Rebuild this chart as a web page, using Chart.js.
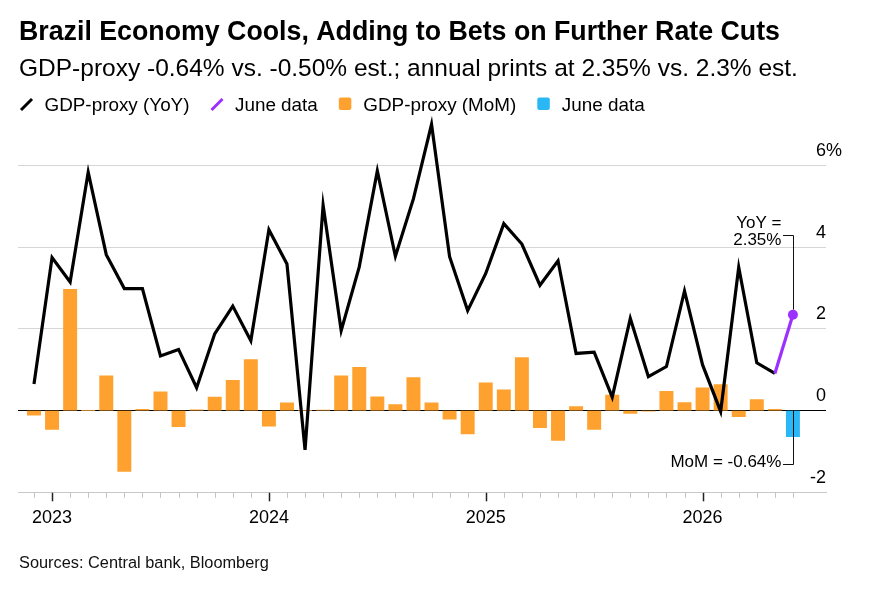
<!DOCTYPE html>
<html><head><meta charset="utf-8">
<script src="https://cdn.jsdelivr.net/npm/chart.js@4.4.1/dist/chart.umd.min.js"></script>
<style>html,body{margin:0;padding:0;background:#fff;}#wrap{width:874px;height:596px;position:relative;}</style>
</head><body><div id="wrap"><canvas id="c" width="874" height="596"></canvas></div>
<script>
// ---- DATA ----
const months = ['2022-12',
 '2023-01','2023-02','2023-03','2023-04','2023-05','2023-06','2023-07','2023-08','2023-09','2023-10','2023-11','2023-12',
 '2024-01','2024-02','2024-03','2024-04','2024-05','2024-06','2024-07','2024-08','2024-09','2024-10','2024-11','2024-12',
 '2025-01','2025-02','2025-03','2025-04','2025-05','2025-06','2025-07','2025-08','2025-09','2025-10','2025-11','2025-12',
 '2026-01','2026-02','2026-03','2026-04','2026-05','2026-06'];
const yoy = [0.65,
 3.75,3.15,5.84,3.82,2.99,2.99,1.34,1.50,0.56,1.88,2.56,1.71,
 4.43,3.59,-0.96,5.03,1.96,3.52,5.87,3.78,5.19,7.01,3.77,2.45,
 3.36,4.58,4.08,3.07,3.67,1.40,1.43,0.33,2.26,0.83,1.08,2.93,
 1.12,-0.02,3.51,1.17,0.91,2.35];
const mom = [-0.11,
 -0.46,2.97,0.00,0.85,-1.49,0.03,0.46,-0.39,0.02,0.33,0.74,1.25,
 -0.38,0.19,0.00,0.01,0.85,1.06,0.34,0.15,0.81,0.19,-0.21,-0.57,
 0.68,0.51,1.30,-0.42,-0.73,0.10,-0.46,0.38,-0.07,-0.01,0.47,0.20,
 0.56,0.64,-0.15,0.27,0.03,-0.64];
const yTickValues = [-2, 0, 2, 4, 6];
const yearLabels = {'2023-01':'2023','2024-01':'2024','2025-01':'2025','2026-01':'2026'};
const seriesNames = ['GDP-proxy (YoY)','June data','GDP-proxy (MoM)','June data'];
const titleText = 'Brazil Economy Cools, Adding to Bets on Further Rate Cuts';
const subtitleText = 'GDP-proxy -0.64% vs. -0.50% est.; annual prints at 2.35% vs. 2.3% est.';
const sourceText = 'Sources: Central bank, Bloomberg';
const yoyNote = ['YoY =', '2.35%'];
const momNote = 'MoM = -0.64%';

// ---- STYLE ----
const FONT = '"Liberation Sans", Arial, Helvetica, sans-serif';
const C_BLACK = '#000000', C_PURPLE = '#9b30ff', C_ORANGE = '#ffa12e', C_BLUE = '#2ab7f6', C_GRID = '#d6d6d6';
const last = months.length - 1;

const blackLine = months.slice(0, last).map((m, i) => ({x: i, y: yoy[i]}));
const purpleLine = [{x: last - 1, y: yoy[last - 1]}, {x: last, y: yoy[last]}];
const orangeBars = months.slice(0, last).map((m, i) => ({x: i, y: mom[i]}));
const blueBars = [{x: last, y: mom[last]}];

function fitSize(ctx, text, weight, target) {
  ctx.font = weight + ' 100px ' + FONT;
  return 100 * target / ctx.measureText(text).width;
}

const decor = {
  id: 'decor',
  afterDatasetsDraw(chart) {
    const ctx = chart.ctx, xs = chart.scales.x, ys = chart.scales.y;
    ctx.save();
    // monthly minor ticks and yearly major ticks
    months.forEach((m, i) => {
      const px = Math.round(xs.getPixelForValue(i)) + 0.5;
      const major = !!yearLabels[m];
      ctx.strokeStyle = major ? '#222' : '#c2c2c2';
      ctx.lineWidth = major ? 1.5 : 1;
      ctx.beginPath(); ctx.moveTo(px, ys.bottom + 0.5); ctx.lineTo(px, ys.bottom + (major ? 9 : 5.5)); ctx.stroke();
    });
    // annotations
    const xp = xs.getPixelForValue(last);
    const yPt = ys.getPixelForValue(yoy[last]);
    const yZero = ys.getPixelForValue(0);
    ctx.strokeStyle = '#111'; ctx.lineWidth = 1;
    const vx = Math.round(xp) + 0.5;
    ctx.beginPath();
    ctx.moveTo(vx - 10.5, 235.5); ctx.lineTo(vx, 235.5); ctx.lineTo(vx, yPt - 5);
    ctx.stroke();
    ctx.beginPath();
    ctx.moveTo(vx, yZero); ctx.lineTo(vx, 464.5); ctx.lineTo(vx - 10.5, 464.5);
    ctx.stroke();
    ctx.fillStyle = '#000';
    ctx.font = '17px ' + FONT;
    ctx.textAlign = 'right'; ctx.textBaseline = 'middle';
    ctx.fillText(yoyNote[0], xp - 11.5, 223);
    ctx.fillText(yoyNote[1], xp - 11.5, 240.5);
    ctx.fillText(momNote, xp - 11.5, 462);
    ctx.restore();
  },
  afterDraw(chart) {
    const ctx = chart.ctx, ys = chart.scales.y, area = chart.chartArea;
    ctx.save();
    ctx.fillStyle = '#000';
    ctx.textBaseline = 'alphabetic'; ctx.textAlign = 'left';
    // title & subtitle
    let s = fitSize(ctx, titleText, 'bold', 761);
    ctx.font = 'bold ' + s + 'px ' + FONT; ctx.fillText(titleText, 19, 39.5);
    s = fitSize(ctx, subtitleText, 'normal', 779);
    ctx.font = s + 'px ' + FONT; ctx.fillText(subtitleText, 19, 75.5);
    // legend
    const ls = fitSize(ctx, seriesNames[0], 'normal', 145);
    ctx.font = ls + 'px ' + FONT;
    const colors = [C_BLACK, C_PURPLE, C_ORANGE, C_BLUE];
    let x = 20;
    seriesNames.forEach((name, i) => {
      if (i < 2) {
        ctx.strokeStyle = colors[i]; ctx.lineWidth = 3; ctx.lineCap = 'butt';
        ctx.beginPath(); ctx.moveTo(x + 1, 110); ctx.lineTo(x + 12, 99); ctx.stroke();
        x += 24.5;
      } else {
        ctx.fillStyle = colors[i];
        ctx.beginPath(); ctx.roundRect(x, 97.5, 12.5, 12.5, 2); ctx.fill();
        x += 24.5;
      }
      ctx.fillStyle = '#000';
      ctx.fillText(name, x, 110.5);
      x += ctx.measureText(name).width + 21;
    });
    // y tick labels (numbers right-aligned, % hanging)
    ctx.font = '18px ' + FONT; ctx.textBaseline = 'middle';
    ys.ticks.forEach((t, i) => {
      const py = ys.getPixelForValue(t.value) - 14.5;
      ctx.textAlign = 'right';
      ctx.fillText(String(t.value), area.right, py);
      if (i === ys.ticks.length - 1) { ctx.textAlign = 'left'; ctx.fillText('%', area.right, py); }
    });
    // source
    ctx.textBaseline = 'alphabetic'; ctx.textAlign = 'left';
    s = fitSize(ctx, sourceText, 'normal', 250);
    ctx.font = s + 'px ' + FONT; ctx.fillStyle = '#111';
    ctx.fillText(sourceText, 19, 567.5);
    ctx.restore();
  }
};

new Chart(document.getElementById('c'), {
  data: {
    datasets: [
      {type: 'line', label: seriesNames[0], data: blackLine, borderColor: C_BLACK, borderWidth: 3.2,
       pointRadius: 0, borderJoinStyle: 'miter', tension: 0, clip: false, order: 1},
      {type: 'line', label: seriesNames[1], data: purpleLine, borderColor: C_PURPLE, backgroundColor: C_PURPLE, borderWidth: 3.2,
       pointRadius: ctx => ctx.dataIndex === 1 ? 5 : 0, pointBorderWidth: 0, pointBackgroundColor: C_PURPLE,
       tension: 0, clip: false, order: 0},
      {type: 'bar', label: seriesNames[2], data: orangeBars, backgroundColor: C_ORANGE, barThickness: 13.3,
       grouped: false, borderWidth: 0, order: 3},
      {type: 'bar', label: seriesNames[3], data: blueBars, backgroundColor: C_BLUE, barThickness: 13.3,
       grouped: false, borderWidth: 0, order: 2}
    ]
  },
  options: {
    responsive: false, animation: false, devicePixelRatio: 1,
    layout: {padding: {left: 18, top: 120.7, right: 0, bottom: 0}},
    plugins: {legend: {display: false}, tooltip: {enabled: false}, title: {display: false}},
    scales: {
      x: {
        type: 'linear', min: -0.885, max: 43.83, offset: false,
        afterBuildTicks: sc => { sc.ticks = months.map((m, i) => ({value: i})); },
        afterFit: sc => { sc.height = 596 - 492.3; },
        grid: {drawOnChartArea: false, drawTicks: true, tickLength: 5, tickColor: 'rgba(0,0,0,0)', tickWidth: 1},
        border: {display: true, color: '#c8c8c8', width: 1},
        ticks: {autoSkip: false, maxRotation: 0, padding: 10, color: '#000',
          font: {family: FONT, size: 18},
          callback: v => yearLabels[months[v]] || ''}
      },
      y: {
        position: 'right', min: -2, max: 7.1,
        afterBuildTicks: sc => { sc.ticks = yTickValues.map(v => ({value: v})); },
        afterFit: sc => { sc.width = 48; },
        grid: {drawTicks: false, color: c => c.tick && c.tick.value === 0 ? '#000' : C_GRID, lineWidth: 1},
        border: {display: false},
        ticks: {display: false}
      }
    }
  },
  plugins: [decor]
});
</script>
</body></html>
